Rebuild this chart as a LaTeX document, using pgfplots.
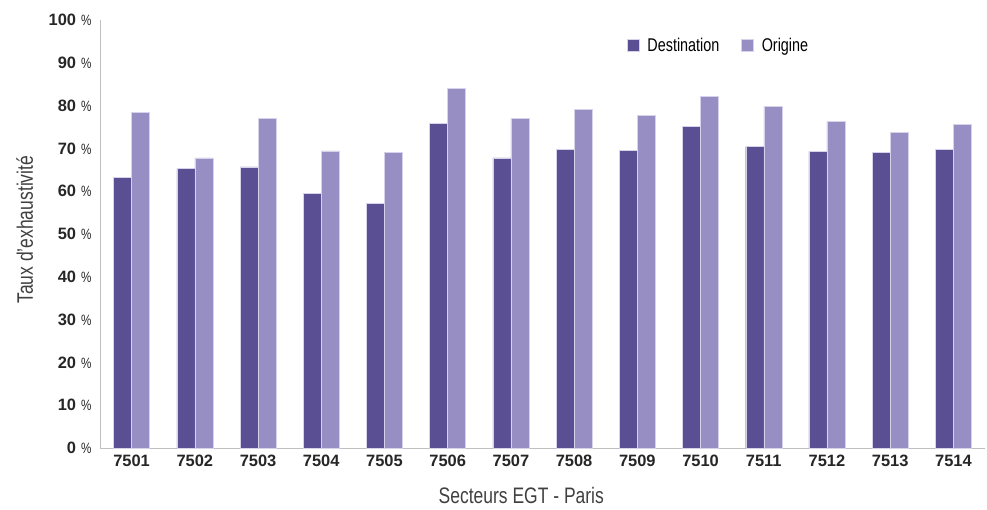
\documentclass[border=0pt]{standalone}
\usepackage{pgfplots}
\pgfplotsset{compat=1.18}
\usepackage{fontspec}
\setmainfont{Liberation Sans}[FakeStretch=0.78]
\newfontfamily\tickfont{Liberation Sans}
\definecolor{dest}{HTML}{5B4F94}
\definecolor{orig}{HTML}{978FC4}
\definecolor{edge}{HTML}{D6D2EA}
\definecolor{axgray}{HTML}{BFBFBF}
\definecolor{txt}{HTML}{404040}
\begin{document}
\begin{tikzpicture}[x=1bp,y=1bp]
\begin{axis}[
  scale only axis,
  width=885bp, height=428bp,
  ybar=0pt, bar width=0.285,
  xmin=-0.5, xmax=13.5,
  ymin=0, ymax=100,
  axis x line*=bottom, axis y line*=left,
  axis line style={axgray, line width=0.8pt},
  major tick length=0pt,
  xtick={0,...,13},
  xticklabels={7501,7502,7503,7504,7505,7506,7507,7508,7509,7510,7511,7512,7513,7514},
  ytick={0,10,...,100},
  yticklabel={\pgfmathprintnumber{\tick}\hspace{5bp}{\rmfamily\fontsize{15}{15}\selectfont\mdseries\%}},
  /pgf/number format/assume math mode=true,
  tick label style={font=\tickfont\fontsize{16.5}{19}\selectfont\bfseries, text=black!85},
  xticklabel style={yshift=-4bp},
  yticklabel style={xshift=-5bp},
  xlabel={Secteurs EGT - Paris},
  ylabel={Taux d'exhaustivité},
  label style={font=\fontsize{22.5}{24}\selectfont, text=txt},
  xlabel style={at={(axis description cs:0.476,0)}, anchor=north, yshift=-36bp},
  ylabel style={at={(axis description cs:-0.085,0.51)}, anchor=center},
  legend style={draw=none, fill=none, at={(0.592,0.94)}, anchor=west,
    legend columns=2, font=\fontsize{18.5}{20}\selectfont,
    /tikz/every odd column/.append style={column sep=6bp},
    /tikz/every even column/.append style={column sep=20bp}},
  legend image code/.code={\fill[#1] (0bp,-6bp) rectangle (12bp,6bp);},
  clip=false,
]
\addplot[fill=dest, draw=edge, line width=0.4pt] coordinates {
(0,63.3) (1,65.3) (2,65.7) (3,59.5) (4,57.2) (5,75.9) (6,67.8)
(7,69.8) (8,69.5) (9,75.2) (10,70.4) (11,69.3) (12,69.0) (13,69.8)};
\addplot[fill=orig, draw=edge, line width=0.4pt] coordinates {
(0,78.5) (1,67.8) (2,77.0) (3,69.4) (4,69.1) (5,84.0) (6,77.0)
(7,79.1) (8,77.8) (9,82.2) (10,79.9) (11,76.3) (12,73.8) (13,75.7)};
\legend{Destination, Origine}
\end{axis}
\path ([xshift=-100bp,yshift=20bp]current axis.north west);
\path ([xshift=2bp,yshift=-62bp]current axis.south east);
\end{tikzpicture}
\end{document}
